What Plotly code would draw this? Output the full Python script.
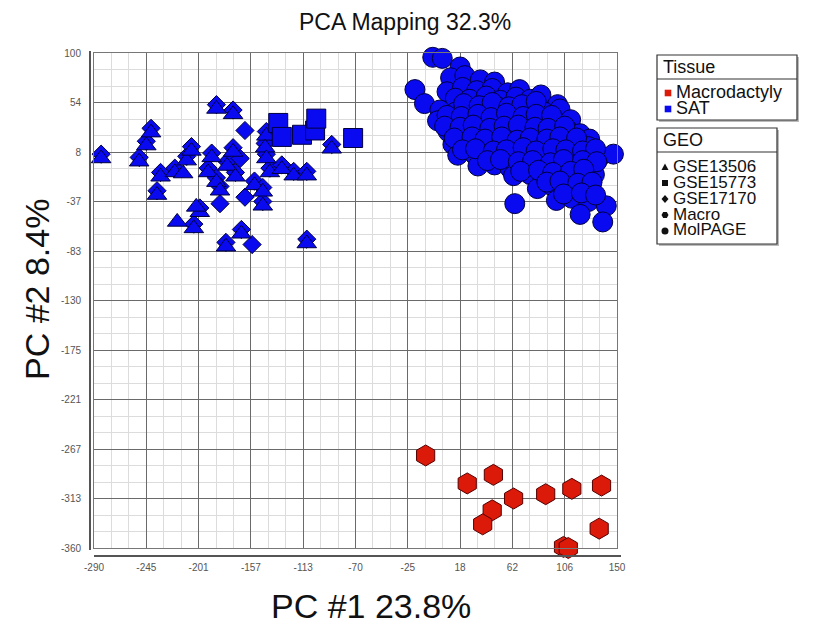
import plotly.graph_objects as go

# ---------------- data ----------------
x_tickvals = [-290, -246, -202, -158, -114, -70, -26, 18, 62, 106, 150]
x_ticktext = ["-290", "-245", "-201", "-157", "-113", "-70", "-25", "18", "62", "106", "150"]
y_tickvals = [100, 54, 8, -38, -84, -130, -176, -222, -268, -314, -360]
y_ticktext = ["100", "54", "8", "-37", "-83", "-130", "-175", "-221", "-267", "-313", "-360"]

# MolPAGE (SAT, circles)
molpage_x = [
    -5, 3,
    18,
    10, 22, 35, 47,
    -20, 7, 20, 32, 45, 58, 68,
    14, 26, 40, 52, 65, 77, 86,
    -12, 100,
    1, 14, 26, 39, 52, 64, 77, 89, 102,
    -1, 11, 24, 36, 49, 62, 74, 87, 100, 111,
    8, 20, 33, 46, 58, 71, 84, 96, 109, 119,
    127,
    12, 25, 37, 50, 63, 75, 88, 100, 113, 126,
    16, 30, 43, 57, 70, 84, 97, 111, 124, 136, 147,
    33, 47, 60, 73, 87, 100, 114, 127,
    63, 77, 90, 104, 117, 131,
    83, 96, 110, 123,
    99, 112, 126,
    64, 141,
    119,
    138,
    21, 34, 45, 59, 70, 82,
    7, 19, 33, 44, 57, 71, 82, 95,
    5, 18, 29, 43, 55, 67, 81, 92, 106,
    13, 28, 39, 53, 66, 77, 91, 102, 116,
    20, 31, 46, 57, 71, 82, 96, 107, 121, 132,
    41, 52, 67, 79, 94, 105, 121, 133,
    69, 84, 96, 111, 122,
    91, 102, 117, 129,
    105, 120, 132]
molpage_y = [
    96, 95,
    87,
    77, 79, 75, 73,
    66, 64, 68, 65, 67, 63, 66,
    58, 57, 60, 56, 59, 57, 61,
    53, 52,
    47, 45, 48, 46, 49, 44, 47, 45, 48,
    37, 38, 35, 39, 36, 38, 34, 37, 35, 38,
    27, 25, 28, 26, 29, 24, 27, 26, 28, 25,
    20,
    15, 16, 13, 17, 14, 16, 12, 15, 17, 13,
    5, 6, 3, 7, 4, 6, 2, 5, 7, 4, 6,
    -5, -4, -7, -3, -6, -4, -8, -5,
    -14, -13, -16, -12, -15, -13,
    -26, -24, -27, -25,
    -37, -35, -38,
    -40, -42,
    -50,
    -57,
    53, 51, 54, 50, 52, 55,
    42, 41, 43, 40, 44, 41, 43, 42,
    32, 31, 33, 30, 32, 33, 31, 30, 32,
    21, 22, 20, 22, 19, 21, 20, 22, 21,
    10, 11, 9, 10, 12, 9, 11, 10, 9, 11,
    0, 1, -1, 0, -2, 1, 0, -1,
    -10, -9, -11, -10, -8,
    -20, -19, -21, -20,
    -31, -30, -32]

# GSE13506 (SAT, triangles)
gse13506_x = [-284, -252, -246, -242, -234, -237, -222, -212, -208, -201, -206, -191, -194,
              -187, -184, -187, -173, -173, -178, -171, -155, -148, -148, -166, -179, -145,
              -146, -145, -142, -132, -122, -111, -111, -90, -220, -215, -204]
gse13506_y = [2, -1, 14, 26, -15, -32, -11, 0, 9, -48, -63, 3, -11,
              -20, -28, 48, 43, 8, -5, -15, -23, -29, -42, -68, -80, 23,
              12, 2, -11, -8, -14, -14, -77, 11, -57, -12, -43]

# GSE17170 (SAT, diamonds)
gse17170_x = [-284, -252, -246, -242, -234, -237, -222, -212, -208, -201, -206, -191, -194,
              -187, -184, -187, -173, -173, -178, -171, -155, -148, -148, -166, -179, -145,
              -146, -145, -142, -132, -122, -111, -111, -90, -163, -167, -184, -163, -157]
gse17170_y = [6, 3, 18, 30, -11, -28, -7, 4, 13, -44, -59, 7, -7,
              -16, -24, 52, 47, 12, -1, -11, -19, -25, -38, -64, -76, 27,
              16, 6, -7, -4, -10, -10, -73, 15, 28, 2, -40, -34, -78]

# GSE15773 (SAT, squares)
gse15773_x = [-135, -132, -115, -104, -103, -72]
gse15773_y = [35, 22, 24, 28, 39, 21]

# Macro (Macrodactyly, hexagons)
macro_x = [-11, 24, 46, 63, 45, 37, 90, 112, 137, 135, 105, 109]
macro_y = [-274, -300, -292, -314, -325, -338, -310, -305, -302, -342, -359, -360]

tissue_labels = ["Macrodactyly", "SAT"]
geo_labels = ["GSE13506", "GSE15773", "GSE17170", "Macro", "MolPAGE"]

# ---------------- styles ----------------
BLUE = "#0a0af0"
BLUE_EDGE = "#000040"
RED = "#dc1a0a"
RED_EDGE = "#550000"
FONT = "Arial, Liberation Sans, sans-serif"

fig = go.Figure()

def add(xs, ys, symbol, size, color, edge):
    fig.add_trace(go.Scatter(
        x=xs, y=ys, mode="markers", cliponaxis=False, showlegend=False,
        marker=dict(symbol=symbol, size=size, color=color,
                    line=dict(color=edge, width=1))))

add(gse17170_x, gse17170_y, "diamond", 14, BLUE, BLUE_EDGE)
add(gse13506_x, gse13506_y, "triangle-up", 17, BLUE, BLUE_EDGE)
add(gse15773_x, gse15773_y, "square", 19, BLUE, BLUE_EDGE)
add(molpage_x, molpage_y, "circle", 20, BLUE, BLUE_EDGE)
add(macro_x, macro_y, "hexagon", 21, RED, RED_EDGE)

# ---------------- layout ----------------
W, H = 823, 636
L, R, T, B = 94, 617, 53, 548

def px(x):
    return (x - L) / (R - L)

def py(y):
    return (B - y) / (B - T)

axis_common = dict(
    showgrid=True, gridcolor="#6a6a6a", gridwidth=1,
    zeroline=False, showline=True, linecolor="#777777", linewidth=1, mirror=True,
    ticks="", tickfont=dict(family=FONT, size=10, color="#555555"),
)

fig.update_layout(
    width=W, height=H,
    margin=dict(l=L, r=W - R, t=T, b=H - B),
    paper_bgcolor="white", plot_bgcolor="white",
    showlegend=False,
    font=dict(family=FONT, color="#111111"),
    xaxis=dict(range=[-290, 150], tickmode="array", tickvals=x_tickvals, ticktext=x_ticktext,
               ticklabelstandoff=10,
               minor=dict(tickmode="linear", tick0=-290, dtick=44 / 3, showgrid=True,
                          gridcolor="#dcdcdc", gridwidth=1),
               **axis_common),
    yaxis=dict(range=[-360, 100], tickmode="array", tickvals=y_tickvals, ticktext=y_ticktext,
               ticklabelstandoff=10,
               minor=dict(tickmode="linear", tick0=-360, dtick=46 / 3, showgrid=True,
                          gridcolor="#dcdcdc", gridwidth=1),
               **axis_common),
)

shapes = []
annotations = []

# offset axis lines (bottom and left)
shapes.append(dict(type="line", xref="paper", yref="paper", x0=px(L), x1=px(R + 4),
                   y0=py(556), y1=py(556), line=dict(color="#555555", width=2)))
shapes.append(dict(type="line", xref="paper", yref="paper", x0=px(90), x1=px(90),
                   y0=py(T - 2), y1=py(B + 2), line=dict(color="#555555", width=2)))

# title and axis titles
annotations.append(dict(text="PCA Mapping 32.3%", xref="paper", yref="paper",
                        x=px(405), y=py(22), xanchor="center", yanchor="middle",
                        showarrow=False, font=dict(family=FONT, size=23, color="#111111")))
annotations.append(dict(text="PC #1 23.8%", xref="paper", yref="paper",
                        x=px(371), y=py(606), xanchor="center", yanchor="middle",
                        showarrow=False, font=dict(family=FONT, size=34, color="#111111")))
annotations.append(dict(text="PC #2 8.4%", xref="paper", yref="paper",
                        x=px(37), y=py(290), xanchor="center", yanchor="middle", textangle=-90,
                        showarrow=False, font=dict(family=FONT, size=34, color="#111111")))

# legend boxes
def box(x0, y0, x1, y1, sep):
    shapes.append(dict(type="rect", xref="paper", yref="paper", x0=px(x0 + 2), x1=px(x1 + 2),
                       y0=py(y0 + 2), y1=py(y1 + 2), line=dict(width=0), fillcolor="#bbbbbb"))
    shapes.append(dict(type="rect", xref="paper", yref="paper", x0=px(x0), x1=px(x1),
                       y0=py(y0), y1=py(y1), line=dict(color="#333333", width=1.2),
                       fillcolor="white"))
    shapes.append(dict(type="line", xref="paper", yref="paper", x0=px(x0), x1=px(x1),
                       y0=py(sep), y1=py(sep), line=dict(color="#333333", width=1.2)))

def text(t, x, y, size=17):
    annotations.append(dict(text=t, xref="paper", yref="paper", x=px(x), y=py(y),
                            xanchor="left", yanchor="middle", showarrow=False,
                            borderpad=0,
                            font=dict(family=FONT, size=size, color="#111111")))

def path_shape(points, color):
    d = "M " + " L ".join(f"{px(a):.5f},{py(b):.5f}" for a, b in points) + " Z"
    shapes.append(dict(type="path", xref="paper", yref="paper", path=d,
                       fillcolor=color, line=dict(width=0)))

def sq(cx, cy, r, color):
    path_shape([(cx - r, cy - r), (cx + r, cy - r), (cx + r, cy + r), (cx - r, cy + r)], color)

box(657, 55, 797, 120, 79)
text("Tissue", 662, 67, 18)
sq(668, 93, 3.3, RED)
sq(668, 109, 3.3, BLUE)
text(tissue_labels[0], 675, 92, 18)
text(tissue_labels[1], 675, 108, 18)

box(657, 128, 777, 244, 152)
text("GEO", 662, 140, 18)
item_y = [167, 183, 199, 215, 231]
for lab, yy in zip(geo_labels, item_y):
    text(lab, 672, yy - 1)
sx = 665
# triangle
path_shape([(sx - 3.5, item_y[0] + 3), (sx + 3.5, item_y[0] + 3), (sx, item_y[0] - 3.5)], "#111111")
# square
sq(sx, item_y[1], 3, "#111111")
# diamond
y2 = item_y[2]
path_shape([(sx, y2 - 4), (sx + 3.5, y2), (sx, y2 + 4), (sx - 3.5, y2)], "#111111")
# hexagon
y3 = item_y[3]
path_shape([(sx - 3.5, y3), (sx - 1.8, y3 - 3), (sx + 1.8, y3 - 3), (sx + 3.5, y3),
            (sx + 1.8, y3 + 3), (sx - 1.8, y3 + 3)], "#111111")
# circle
y4 = item_y[4]
shapes.append(dict(type="circle", xref="paper", yref="paper", x0=px(sx - 3.5), x1=px(sx + 3.5),
                   y0=py(y4 - 3.5), y1=py(y4 + 3.5), fillcolor="#111111", line=dict(width=0)))

fig.update_layout(shapes=shapes, annotations=annotations)

fig.write_html("out.html")
